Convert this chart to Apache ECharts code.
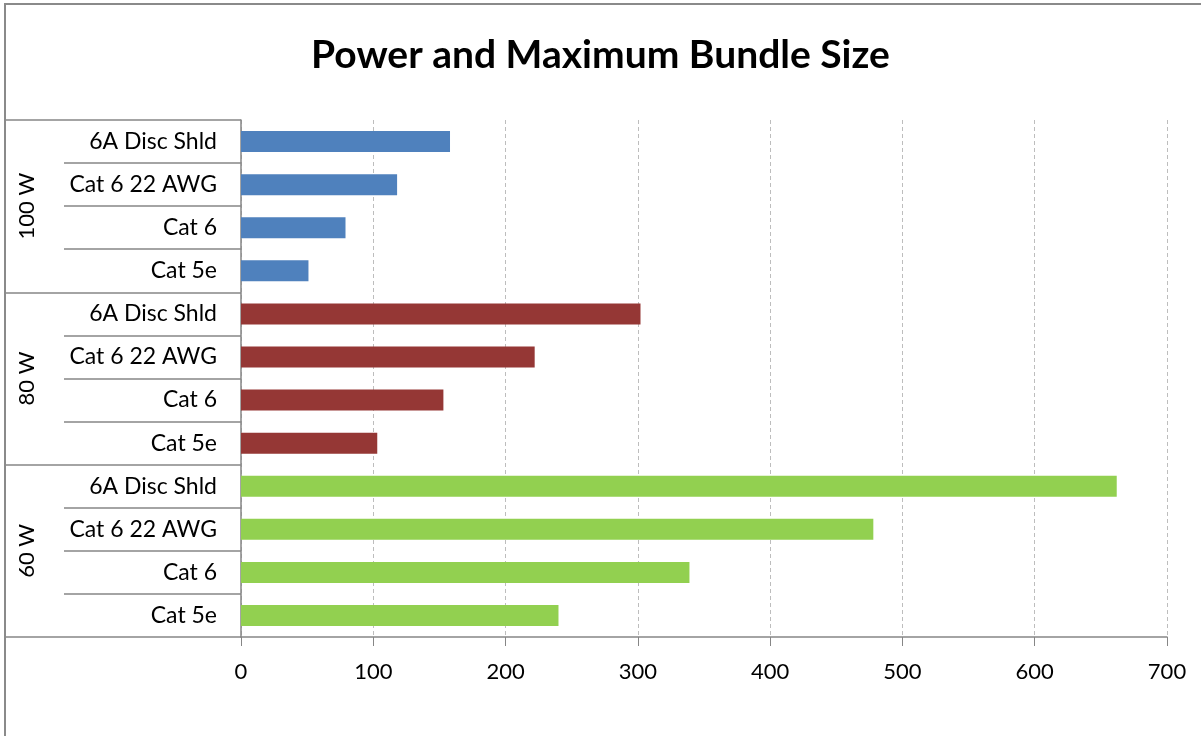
<!DOCTYPE html>
<html>
<head>
<meta charset="utf-8">
<title>Power and Maximum Bundle Size</title>
<script src="https://cdn.jsdelivr.net/npm/echarts@6/dist/echarts.min.js"></script>
<style>
  html, body { margin: 0; padding: 0; background: #fff; overflow: hidden; }
  #chart { position: absolute; left: 0; top: 0; width: 1201px; height: 736px; }
  #frame {
    position: absolute; left: 4px; top: 3px; width: 2000px; height: 2000px;
    border: 2px solid #8a8a8a; pointer-events: none;
  }
</style>
</head>
<body>
<div id="chart"></div>
<div id="frame"></div>
<script>
const groups = ["100 W", "80 W", "60 W"];
const cables = ["6A Disc Shld", "Cat 6 22 AWG", "Cat 6", "Cat 5e"];
const values100 = [158, 118, 79, 51];
const values80 = [302, 222, 153, 103];
const values60 = [662, 478, 339, 240];
const xTicks = [0, 100, 200, 300, 400, 500, 600, 700];

document.addEventListener("DOMContentLoaded", function () {
    const target = document.getElementById("chart");
    const chart = echarts.init(target);
    const font = "Lato, 'Open Sans', sans-serif";

    // one category per (group, cable), top to bottom
    const categories = [];
    groups.forEach(function (g) {
        cables.forEach(function (c) { categories.push(g + "|" + c); });
    });

    function place(groupIndex, vals) {
        const out = categories.map(function () { return "-"; });
        vals.forEach(function (v, i) { out[groupIndex * cables.length + i] = v; });
        return out;
    }

    const colors = ["#4f81bd", "#953735", "#92d050"];
    const seriesValues = [values100, values80, values60];

    chart.setOption({
        animation: false,
        textStyle: { fontFamily: font },
        title: {
            text: "Power and Maximum Bundle Size",
            left: "center",
            top: 31,
            textStyle: { fontFamily: font, fontSize: 39, fontWeight: "bold", color: "#000" },
        },
        grid: { left: 241, right: 34, top: 120, bottom: 99, containLabel: false },
        xAxis: {
            type: "value",
            min: xTicks[0],
            max: xTicks[xTicks.length - 1],
            interval: 100,
            axisLine: { show: true, lineStyle: { color: "#868686", width: 1.5 } },
            axisTick: { show: true, length: 9, lineStyle: { color: "#868686" } },
            axisLabel: { fontSize: 22, color: "#000", margin: 24, fontFamily: font },
            splitLine: { show: true, lineStyle: { color: "#bdbdbd", type: [4, 3] } },
        },
        yAxis: [
            {
                type: "category",
                inverse: true,
                data: categories,
                axisLine: { show: true, lineStyle: { color: "#868686", width: 1.5 } },
                axisTick: { show: true, interval: 0, length: 177, lineStyle: { color: "#868686", width: 1.5 } },
                axisLabel: {
                    interval: 0, fontSize: 23, color: "#000", margin: 24, fontFamily: font,
                    formatter: function (v) { return v.split("|")[1]; },
                },
                splitLine: { show: false },
            },
            {
                type: "category",
                inverse: true,
                position: "left",
                data: groups,
                axisLine: { show: false },
                axisTick: { show: true, interval: 0, length: 236, lineStyle: { color: "#868686", width: 1.5 } },
                axisLabel: { interval: 0, rotate: 90, fontSize: 22, color: "#000", margin: 203, fontFamily: font },
                splitLine: { show: false },
            },
        ],
        series: seriesValues.map(function (vals, i) {
            return {
                name: groups[i],
                type: "bar",
                yAxisIndex: 0,
                data: place(i, vals),
                barWidth: 21,
                barGap: "-100%",
                itemStyle: { color: colors[i] },
            };
        }),
    });

    window.addEventListener("resize", function () {
        chart.resize();
    });
});
</script>
</body>
</html>
